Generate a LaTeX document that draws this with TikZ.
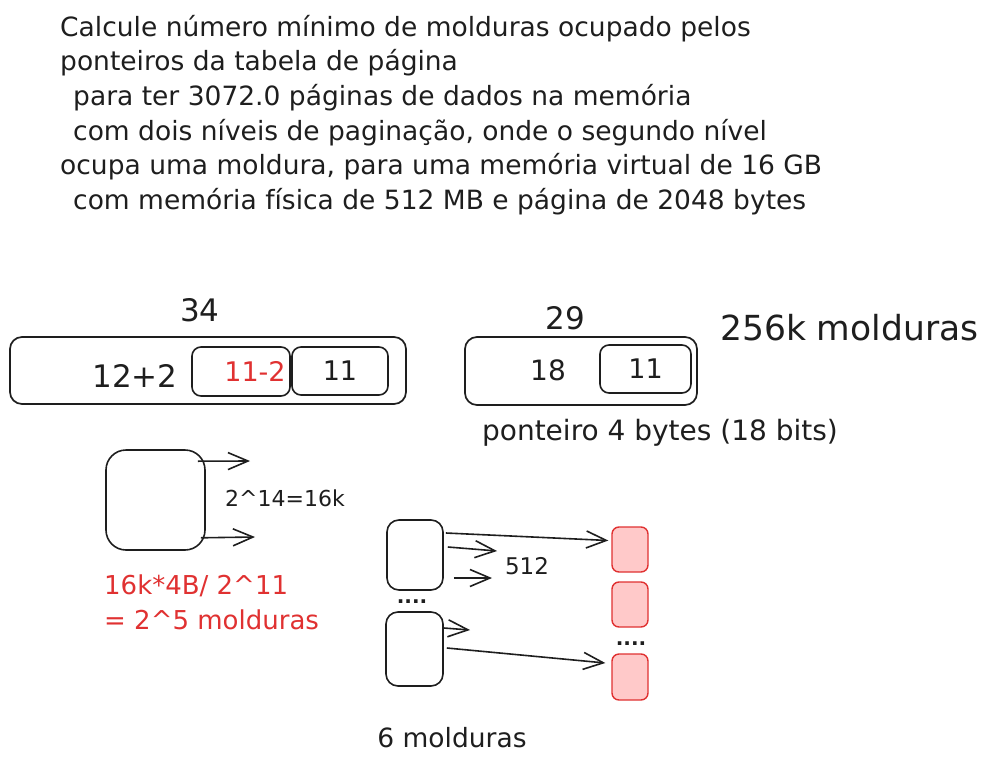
\documentclass[tikz,border=0pt]{standalone}
\usepackage{fontspec}
\setmainfont{DejaVu Sans}
\usetikzlibrary{arrows.meta,positioning}
\definecolor{ink}{HTML}{1E1E1E}
\definecolor{xred}{HTML}{E03131}
\definecolor{xpink}{HTML}{FFC9C9}

\begin{document}
\begin{tikzpicture}[
  x=1pt,y=-1pt,
  every node/.style={inner sep=0pt,text=ink},
  lbl/.style={font=\fontsize{28}{34}\selectfont},
  num/.style={font=\fontsize{31}{36}\selectfont},
  frame/.style={draw=ink,line width=1.7pt,rounded corners=12pt},
  inbox/.style={draw=ink,line width=1.6pt,rounded corners=9pt,font=\fontsize{27}{32}\selectfont},
  pgbox/.style={draw=ink,line width=1.6pt,rounded corners=12pt},
  mbox/.style={draw=xred,fill=xpink,line width=1.4pt,rounded corners=7pt,minimum width=36pt},
  dots/.style={font=\bfseries\fontsize{20}{20}\selectfont},
  arr/.style={-{Straight Barb[length=20pt,width=17pt]},draw=ink,line width=1.6pt}
]
  \useasboundingbox (0,0) rectangle (987,765);

  % statement
  \node[anchor=north west,align=left,font=\fontsize{26.5}{34.6}\selectfont] (task) at (60,15)
    {Calcule número mínimo de molduras ocupado pelos\\
     ponteiros da tabela de página\\
     \hspace*{13pt}para ter 3072.0 páginas de dados na memória\\
     \hspace*{13pt}com dois níveis de paginação, onde o segundo nível\\
     ocupa uma moldura, para uma memória virtual de 16 GB\\
     \hspace*{13pt}com memória física de 512 MB e página de 2048 bytes};

  % virtual address
  \node[frame,minimum width=396pt,minimum height=67pt] (vaddr) at (208,370.5) {};
  \node[num] (vbits) at (200,310) {34};
  \node[num] (pt1) at (135,376) {12+2};
  \node[inbox,minimum width=98pt,minimum height=49pt,text=xred] (pt2) at (241,371.5) {\hspace*{28pt}11-2};
  \node[inbox,minimum width=96pt,minimum height=48pt] (voff) at (340,371) {11};

  % physical address
  \node[frame,minimum width=232pt,minimum height=68pt] (paddr) at (581,371) {};
  \node[num] (pbits) at (565,318) {29};
  \node[lbl] (frm) at (548,370) {18};
  \node[inbox,minimum width=91pt,minimum height=48pt] (poff) at (645.5,369) {11};
  \node[anchor=west,font=\fontsize{34.5}{40}\selectfont] (nfrm) at (720,328) {256k molduras};
  \node[lbl] (ptr) at (660,433) {ponteiro 4 bytes (18 bits)};

  % first level
  \node[pgbox,rounded corners=20pt,minimum width=99pt,minimum height=100pt] (lvl1) at (155.5,500) {};
  \coordinate (e1) at (250,461);
  \coordinate (e2) at (255,537);
  \draw[arr] ([xshift=-8pt,yshift=-12pt]lvl1.north east) -- (e1);
  \draw[arr] ([xshift=-5pt,yshift=13pt]lvl1.south east) -- (e2);
  \node[anchor=west,font=\fontsize{22}{28}\selectfont] (ent) at (225,498) {2\textasciicircum14=16k};
  \node[anchor=north west,align=left,text=xred,font=\fontsize{26}{35}\selectfont] (calc) at (104,575)
    {16k*4B/ 2\textasciicircum11\\= 2\textasciicircum5 molduras};

  % second level tables
  \node[pgbox,minimum width=56pt,minimum height=70pt] (tabA) at (415,555) {};
  \node[pgbox,minimum width=57pt,minimum height=74pt] (tabB) at (414.5,649) {};
  \node[dots] (dotsL) at (412,602) {....};
  \node[font=\fontsize{23}{28}\selectfont] (n512) at (527,566) {512};

  % data frames
  \node[mbox,minimum height=45pt] (pg1) at (630,549.5) {};
  \node[mbox,minimum height=45pt] (pg2) at (630,604.5) {};
  \node[dots] (dotsR) at (631,644) {....};
  \node[mbox,minimum height=46pt] (pg3) at (630,677) {};

  \coordinate (s1) at (497,551);
  \coordinate (s2) at (492,578);
  \coordinate (s3) at (470,630);
  \draw[arr] ([xshift=2pt,yshift=22pt]tabA.east) -- ([xshift=-3pt,yshift=9pt]pg1.west);
  \draw[arr] ([xshift=4pt,yshift=8pt]tabA.east) -- (s1);
  \draw[arr] ([xshift=10pt,yshift=-23pt]tabA.east) -- (s2);
  \draw[arr] ([xshift=0pt,yshift=21pt]tabB.east) -- (s3);
  \draw[arr] ([xshift=3pt,yshift=1pt]tabB.east) -- ([xshift=-6pt,yshift=14pt]pg3.west);

  \node[font=\fontsize{26.5}{32}\selectfont] (total) at (452,738) {6 molduras};
\end{tikzpicture}
\end{document}
